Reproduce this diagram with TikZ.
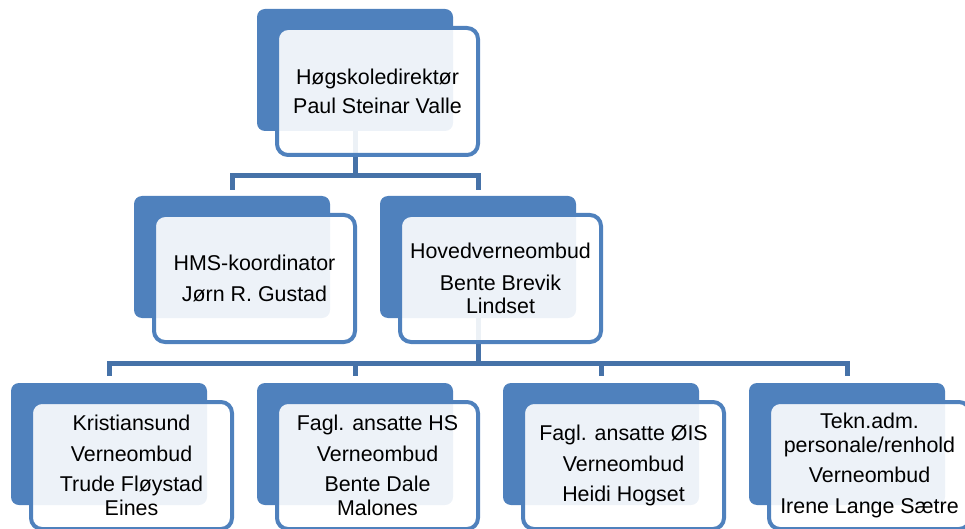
\documentclass[tikz,border=0pt]{standalone}
\usepackage{fontspec}
\setmainfont{Liberation Sans}
\usetikzlibrary{calc}
\definecolor{acc}{RGB}{79,129,189}
\definecolor{connc}{RGB}{70,114,168}
\pgfdeclarelayer{background}
\pgfsetlayers{background,main}
\tikzset{
 darkbox/.style={fill=acc, rounded corners=8pt, minimum width=196pt, minimum height=122pt, anchor=north west, inner sep=0pt, outer sep=0pt},
 frontbox/.style={draw=acc, line width=4pt, fill=white, fill opacity=0.9, text opacity=1, rounded corners=11pt, minimum width=201pt, minimum height=127pt, anchor=north west, align=center, font=\fontsize{21.4}{23.5}\selectfont, inner sep=0pt, outer sep=0pt},
 connline/.style={draw=connc, line width=5pt}
}
\newcommand\orgbox[4]{%
 \node[darkbox] (#1d) at (#2,#3) {};
 \node[frontbox] (#1) at ([xshift=20pt,yshift=-19pt]#1d.north west) {#4};
}
\begin{document}
\begin{tikzpicture}[x=1pt,y=-1pt]
\useasboundingbox (0,0) rectangle (965,529);
\orgbox{top}{257}{9}{Høgskoledirektør\\[6pt]Paul Steinar Valle}
\orgbox{hms}{134}{196}{HMS-koordinator\\[7pt]Jørn R. Gustad}
\orgbox{hov}{380}{196}{Hovedverneombud\\[8pt]Bente Brevik\\Lindset}
\orgbox{ba}{11}{383}{Kristiansund\\[7pt]Verneombud\\[7pt]Trude Fløystad\\Eines}
\orgbox{bb}{257}{383}{Fagl. ansatte HS\\[7pt]Verneombud\\[7pt]Bente Dale\\Malones}
\orgbox{bc}{503}{383}{Fagl. ansatte ØIS\\[7pt]Verneombud\\[7pt]Heidi Hogset}
\orgbox{bd}{749}{383}{Tekn.adm.\\personale/renhold\\[7pt]Verneombud\\[7pt]Irene Lange Sætre}
\begin{pgfonlayer}{background}
\draw[connline, shorten >=6pt] (topd.south) -- ++(0,45) -| (hmsd.north);
\draw[connline, shorten >=6pt] (topd.south) -- ++(0,45) -| (hovd.north);
\foreach \b in {ba,bb,bc,bd}{
  \draw[connline, shorten >=7pt] (hovd.south) -- ++(0,45) -| (\b d.north);
}
\end{pgfonlayer}
\end{tikzpicture}
\end{document}
